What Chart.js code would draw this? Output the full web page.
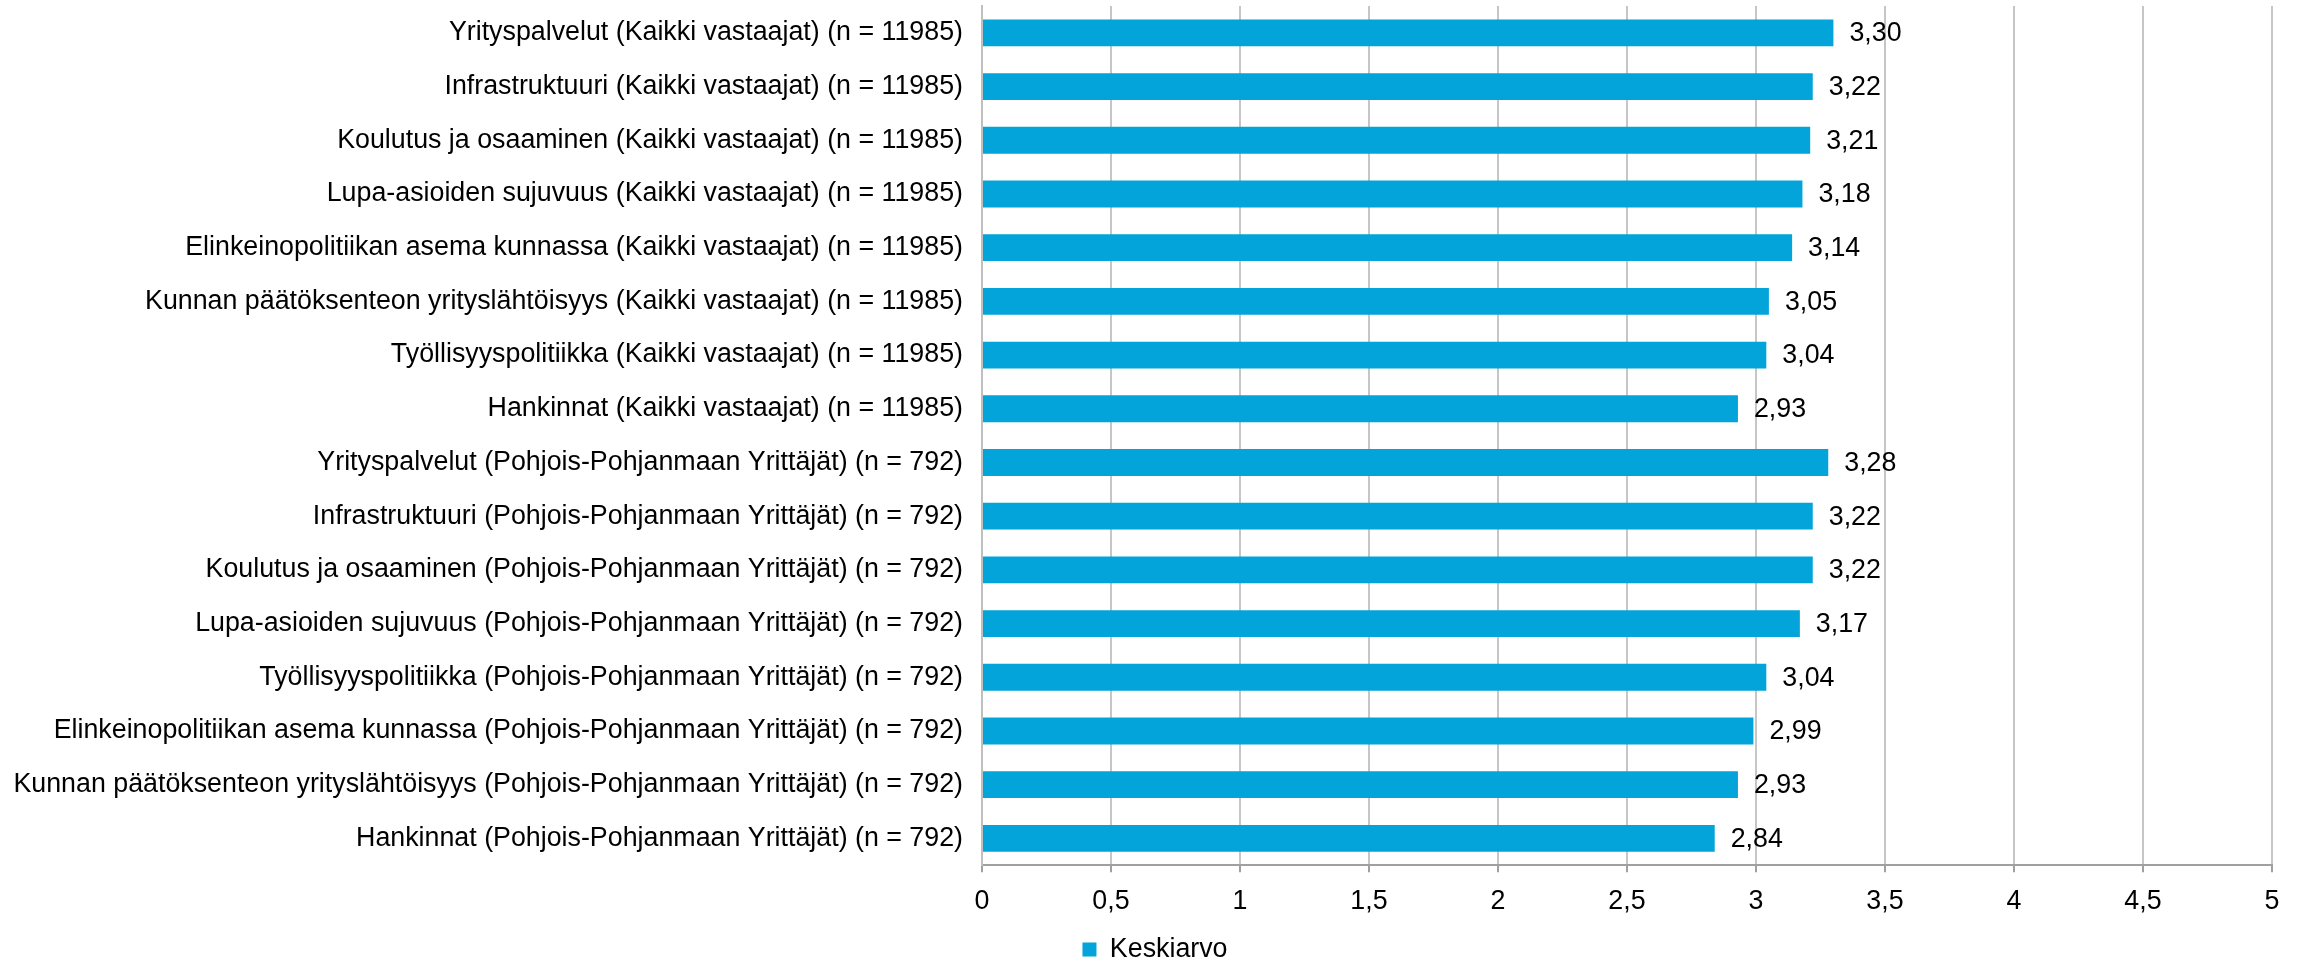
<!DOCTYPE html>
<html>
<head>
<meta charset="utf-8">
<script src="https://cdn.jsdelivr.net/npm/chart.js@4"></script>
<style>
  html, body { margin: 0; padding: 0; background: #ffffff; }
  canvas { display: block; }
</style>
</head>
<body>
<canvas id="c" width="2305" height="963"></canvas>
<script>
const categories = [
  "Yrityspalvelut (Kaikki vastaajat) (n = 11985)",
  "Infrastruktuuri (Kaikki vastaajat) (n = 11985)",
  "Koulutus ja osaaminen (Kaikki vastaajat) (n = 11985)",
  "Lupa-asioiden sujuvuus (Kaikki vastaajat) (n = 11985)",
  "Elinkeinopolitiikan asema kunnassa (Kaikki vastaajat) (n = 11985)",
  "Kunnan päätöksenteon yrityslähtöisyys (Kaikki vastaajat) (n = 11985)",
  "Työllisyyspolitiikka (Kaikki vastaajat) (n = 11985)",
  "Hankinnat (Kaikki vastaajat) (n = 11985)",
  "Yrityspalvelut (Pohjois-Pohjanmaan Yrittäjät) (n = 792)",
  "Infrastruktuuri (Pohjois-Pohjanmaan Yrittäjät) (n = 792)",
  "Koulutus ja osaaminen (Pohjois-Pohjanmaan Yrittäjät) (n = 792)",
  "Lupa-asioiden sujuvuus (Pohjois-Pohjanmaan Yrittäjät) (n = 792)",
  "Työllisyyspolitiikka (Pohjois-Pohjanmaan Yrittäjät) (n = 792)",
  "Elinkeinopolitiikan asema kunnassa (Pohjois-Pohjanmaan Yrittäjät) (n = 792)",
  "Kunnan päätöksenteon yrityslähtöisyys (Pohjois-Pohjanmaan Yrittäjät) (n = 792)",
  "Hankinnat (Pohjois-Pohjanmaan Yrittäjät) (n = 792)"
];
const keskiarvo = [3.30, 3.22, 3.21, 3.18, 3.14, 3.05, 3.04, 2.93,
                   3.28, 3.22, 3.22, 3.17, 3.04, 2.99, 2.93, 2.84];
const seriesName = "Keskiarvo";
const xMin = 0, xMax = 5, xStep = 0.5;

const FONT = "'Liberation Sans', Arial, sans-serif";
const FS = 26.8;
const fmt = v => String(v).replace('.', ',');

const valueLabels = {
  id: 'valueLabels',
  afterDatasetsDraw(chart) {
    const ctx = chart.ctx;
    ctx.save();
    ctx.font = FS + "px " + FONT;
    ctx.fillStyle = '#000';
    ctx.textAlign = 'left';
    ctx.textBaseline = 'middle';
    chart.data.datasets.forEach((ds, di) => {
      chart.getDatasetMeta(di).data.forEach((el, i) => {
        ctx.fillText(ds.data[i].toFixed(2).replace('.', ','), el.x + 16, el.y + 1);
      });
    });
    ctx.restore();
  }
};

const legendShift = {
  id: 'legendShift',
  afterLayout(chart) {
    if (chart.legend) { chart.legend.left += 19; chart.legend.right += 19; }
  }
};

new Chart(document.getElementById('c'), {
  type: 'bar',
  data: {
    labels: categories,
    datasets: [{
      label: seriesName,
      data: keskiarvo,
      backgroundColor: '#02A4D9',
      borderWidth: 0,
      categoryPercentage: 1.0,
      barPercentage: 0.5
    }]
  },
  options: {
    indexAxis: 'y',
    responsive: false,
    animation: false,
    devicePixelRatio: 1,
    layout: { padding: { top: 6, right: 33, bottom: -10, left: 0 } },
    plugins: {
      tooltip: { enabled: false },
      legend: {
        position: 'bottom',
        labels: {
          font: { family: FONT, size: FS },
          color: '#000',
          boxWidth: 14,
          boxHeight: 14,
          padding: 0
        }
      }
    },
    scales: {
      x: {
        min: xMin, max: xMax,
        ticks: {
          stepSize: xStep,
          callback: v => fmt(v),
          font: { family: FONT, size: FS },
          color: '#000',
          padding: 13,
          maxRotation: 0
        },
        grid: { color: '#C6C6C6', lineWidth: 2, tickLength: 7, tickColor: '#A0A0A0' },
        border: { display: true, color: '#A0A0A0', width: 2 },
        afterFit(scale) { scale.height = 71; scale.paddingLeft = 0; scale.paddingRight = 0; }
      },
      y: {
        ticks: {
          font: { family: FONT, size: FS },
          color: '#000',
          padding: 11,
          autoSkip: false
        },
        grid: { display: false },
        border: { display: true, color: '#BFBFBF', width: 2 },
        afterFit(scale) { scale.width = 982; scale.paddingTop = 0; scale.paddingBottom = 0; }
      }
    }
  },
  plugins: [valueLabels, legendShift]
});
</script>
</body>
</html>
